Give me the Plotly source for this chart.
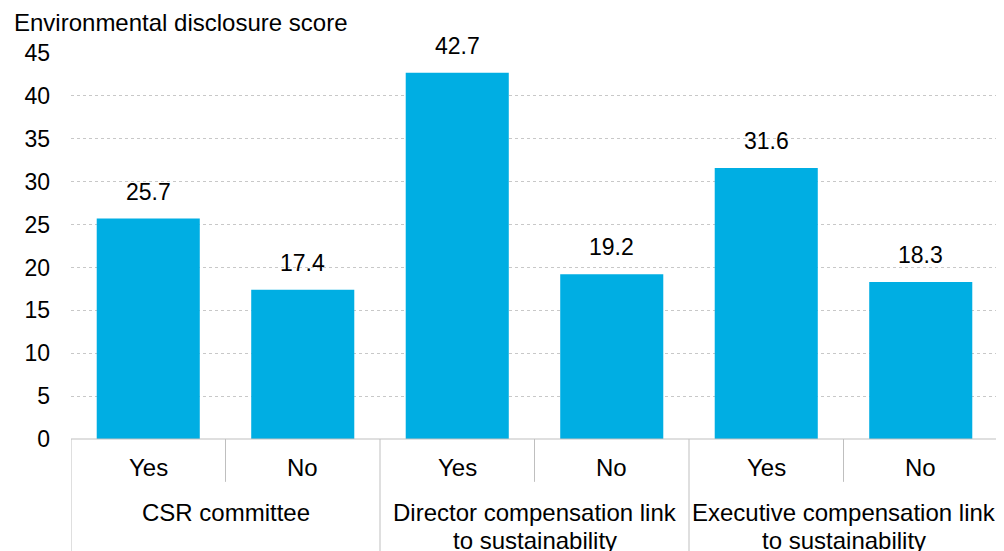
import plotly.graph_objects as go

# -------- Data --------
group_labels = ["CSR committee",
                "Director compensation link<br>to sustainability",
                "Executive compensation link<br>to sustainability"]
answers = ["Yes", "No", "Yes", "No", "Yes", "No"]
scores = [25.7, 17.4, 42.7, 19.2, 31.6, 18.3]

# unique category keys (group index + answer)
keys = [f"{i // 2}-{a}" for i, a in enumerate(answers)]

BAR_COLOR = "#00AEE3"
LINE_COLOR = "#BFBFBF"
FONT = "Liberation Sans, Arial, sans-serif"

fig = go.Figure()
fig.add_trace(go.Bar(
    x=keys,
    y=scores,
    marker=dict(color=BAR_COLOR, line=dict(width=0)),
    width=0.667,
    hovertemplate="%{y}<extra></extra>",
))

shapes = []
annotations = []

# value labels above bars
for k, v in zip(keys, scores):
    annotations.append(dict(
        x=k, y=v, xref="x", yref="y", text=f"{v:.1f}", showarrow=False,
        xanchor="center", yanchor="bottom", yshift=12,
        font=dict(size=23),
    ))

# x-axis "table": sub-category labels and separators
for k, a in zip(keys, answers):
    annotations.append(dict(
        x=k, y=-0.075, xref="x", yref="paper", text=a, showarrow=False,
        xanchor="center", yanchor="middle", font=dict(size=24),
    ))
for gi, g in enumerate(group_labels):
    for li, line in enumerate(g.split("<br>")):
        annotations.append(dict(
            x=gi * 2 + 0.5, y=-0.1917 - li * 0.07, xref="x", yref="paper",
            text=line, showarrow=False,
            xanchor="center", yanchor="middle", font=dict(size=24),
        ))
    # short separator between Yes / No
    shapes.append(dict(type="line", xref="x", yref="paper",
                       x0=gi * 2 + 0.5, x1=gi * 2 + 0.5, y0=0, y1=-0.111,
                       line=dict(color=LINE_COLOR, width=1)))
# group dividers
for b in [-0.5, 1.5, 3.5, 5.5]:
    shapes.append(dict(type="line", xref="x", yref="paper",
                       x0=b, x1=b, y0=0, y1=-0.32,
                       line=dict(color=LINE_COLOR, width=1)))
# baseline
shapes.append(dict(type="line", xref="x", yref="paper",
                   x0=-0.5, x1=5.5, y0=0, y1=0,
                   line=dict(color=LINE_COLOR, width=1)))

annotations.append(dict(
    text="Environmental disclosure score", xref="paper", yref="paper",
    x=-0.0636, y=1.08, xanchor="left", yanchor="middle",
    showarrow=False, font=dict(size=24),
))

fig.update_layout(
    width=1004, height=551,
    margin=dict(l=63, r=14, t=45, b=120),
    paper_bgcolor="white", plot_bgcolor="white",
    font=dict(family=FONT, size=23, color="#000000"),
    showlegend=False,
    shapes=shapes,
    annotations=annotations,
)

fig.update_yaxes(
    range=[0, 45], dtick=5, showgrid=True, gridcolor="#C8C8C8",
    griddash="dot", gridwidth=1, zeroline=False, showline=False,
    ticks="", tickfont=dict(size=23), ticklabelstandoff=20,
)
fig.update_xaxes(
    type="category", range=[-0.5, 5.5], showticklabels=False,
    showline=False, showgrid=False, ticks="",
)

fig.write_html("out.html")
